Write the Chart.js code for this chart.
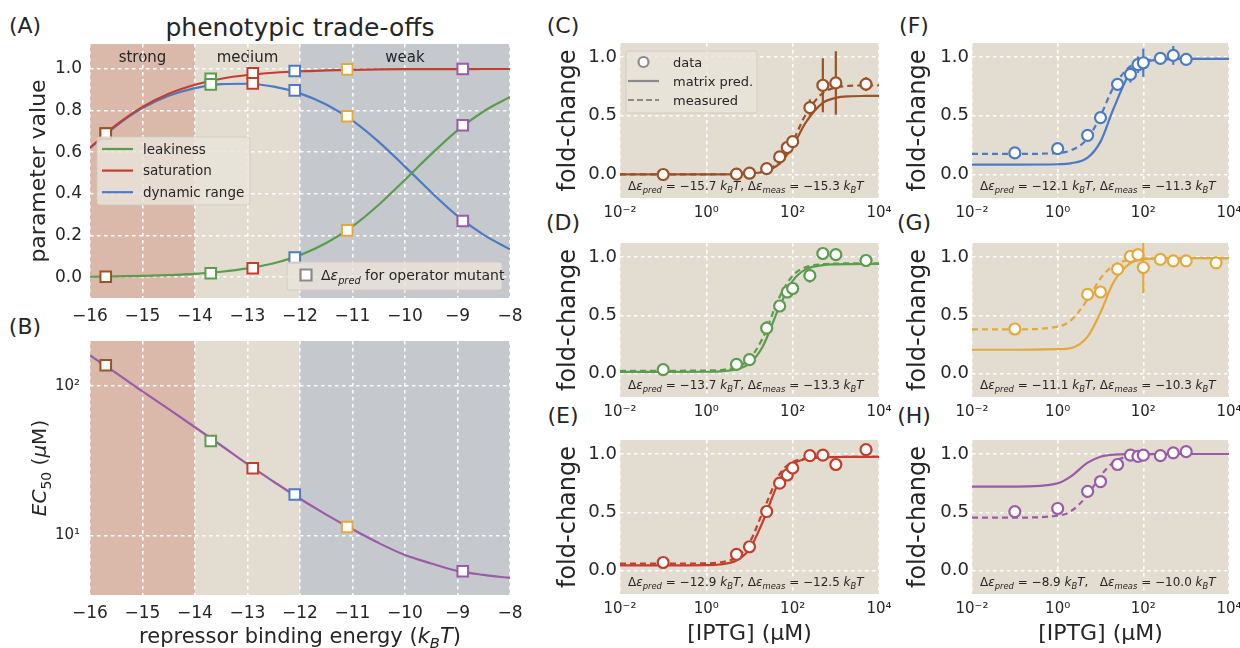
<!DOCTYPE html>
<html>
<head>
<meta charset="utf-8">
<script src="https://cdn.jsdelivr.net/npm/chart.js@4.4.0/dist/chart.umd.min.js"></script>
<style>
  body { margin: 0; width: 1240px; height: 648px; overflow: hidden; background: #fff; position: relative;
         font-family: 'DejaVu Sans', sans-serif; color: #262626; }
  canvas { position: absolute; }
  .tag { position: absolute; font-size: 22px; transform: translate(-50%, -50%); white-space: nowrap; }
</style>
</head>
<body>
<div class="tag" style="left:25px;top:25px">(A)</div>
<div class="tag" style="left:25px;top:326px">(B)</div>
<div class="tag" style="left:563px;top:25px">(C)</div>
<div class="tag" style="left:563px;top:222px">(D)</div>
<div class="tag" style="left:563px;top:415px">(E)</div>
<div class="tag" style="left:914px;top:25px">(F)</div>
<div class="tag" style="left:914px;top:222px">(G)</div>
<div class="tag" style="left:914px;top:415px">(H)</div>
<div class="tag" style="left:300px;top:27px;font-size:25px">phenotypic trade-offs</div>

<canvas id="chartA"></canvas>
<canvas id="chartB"></canvas>
<canvas id="chartC"></canvas>
<canvas id="chartD"></canvas>
<canvas id="chartE"></canvas>
<canvas id="chartF"></canvas>
<canvas id="chartG"></canvas>
<canvas id="chartH"></canvas>

<script>
// ---- panels A and B: properties vs repressor binding energy (kBT) ----
const energy       = [-16, -15.5, -15, -14.5, -14, -13.5, -13, -12.5, -12, -11.5, -11, -10.5, -10, -9.5, -9, -8.5, -8];
const leakiness    = [0.002, 0.004, 0.006, 0.010, 0.016, 0.026, 0.042, 0.067, 0.106, 0.164, 0.244, 0.348, 0.468, 0.591, 0.705, 0.797, 0.866];
const saturation   = [0.622, 0.731, 0.818, 0.881, 0.924, 0.953, 0.971, 0.982, 0.989, 0.993, 0.996, 0.998, 0.999, 0.999, 0.999, 1.0, 1.0];
const dynamicRange = [0.620, 0.727, 0.812, 0.871, 0.908, 0.927, 0.929, 0.915, 0.883, 0.829, 0.752, 0.650, 0.531, 0.408, 0.294, 0.203, 0.134];
const ec50         = [160, 122, 92, 70, 53, 40, 30, 22.9, 17.6, 13.8, 11.0, 8.9, 7.4, 6.5, 5.8, 5.45, 5.2];

// operator mutants (one per panel C..H)
const predEnergy = [-15.7, -13.7, -12.9, -12.1, -11.1, -8.9];
const measEnergy = [-15.3, -13.3, -12.5, -11.3, -10.3, -10.0];
const mutantLeak = [0.002, 0.019, 0.043, 0.094, 0.225, 0.73];
const mutantSat  = [0.69, 0.953, 0.979, 0.990, 0.998, 1.0];
const mutantDyn  = [0.69, 0.926, 0.931, 0.897, 0.773, 0.27];
const mutantEC50 = [137.7, 42.9, 28.2, 18.8, 11.4, 5.77];

// tick labels
const energyTicks = [-16, -15, -14, -13, -12, -11, -10, -9, -8];
const energyTickLabels = ['−16', '−15', '−14', '−13', '−12', '−11', '−10', '−9', '−8'];
const paramTicks = [0, 0.2, 0.4, 0.6, 0.8, 1.0];
const paramTickLabels = ['0.0', '0.2', '0.4', '0.6', '0.8', '1.0'];
const ecTicks = [10, 100];
const ecTickLabels = ['10¹', '10²'];
const iptgTicks = [0.01, 1, 100, 10000];
const iptgTickLabels = ['10⁻²', '10⁰', '10²', '10⁴'];
const fcTicks = [0, 0.5, 1.0];
const fcTickLabels = ['0.0', '0.5', '1.0'];

// ---- panels C..H: fold-change vs IPTG (uM) ----
const iptgCurve = [0.01, 0.1, 1, 2, 5, 10, 20, 50, 100, 200, 500, 1000, 2000, 5000, 10000];
const predC = [0.002, 0.002, 0.002, 0.002, 0.004, 0.008, 0.021, 0.093, 0.239, 0.441, 0.61, 0.653, 0.666, 0.669, 0.67];
const measC = [0.002, 0.002, 0.002, 0.0024, 0.004, 0.009, 0.026, 0.111, 0.282, 0.51, 0.695, 0.741, 0.755, 0.759, 0.76];
const predD = [0.015, 0.015, 0.0163, 0.0194, 0.0373, 0.088, 0.229, 0.579, 0.796, 0.894, 0.93, 0.937, 0.939, 0.94, 0.94];
const measD = [0.025, 0.025, 0.027, 0.031, 0.056, 0.126, 0.301, 0.66, 0.84, 0.912, 0.938, 0.943, 0.945, 0.945, 0.945];
const predE = [0.045, 0.045, 0.047, 0.053, 0.087, 0.184, 0.413, 0.778, 0.913, 0.957, 0.972, 0.974, 0.975, 0.975, 0.975];
const measE = [0.06, 0.06, 0.063, 0.07, 0.116, 0.239, 0.496, 0.828, 0.93, 0.962, 0.972, 0.974, 0.975, 0.975, 0.975];
const predF = [0.085, 0.085, 0.0875, 0.0949, 0.143, 0.28, 0.558, 0.871, 0.953, 0.977, 0.984, 0.985, 0.985, 0.985, 0.985];
const measF = [0.175, 0.175, 0.1835, 0.204, 0.306, 0.5, 0.742, 0.923, 0.966, 0.98, 0.984, 0.985, 0.985, 0.985, 0.985];
const predG = [0.205, 0.205, 0.21, 0.218, 0.317, 0.524, 0.781, 0.947, 0.979, 0.987, 0.99, 0.99, 0.99, 0.99, 0.99];
const measG = [0.38, 0.38, 0.403, 0.454, 0.635, 0.816, 0.927, 0.977, 0.986, 0.989, 0.99, 0.99, 0.99, 0.99, 0.99];
const predH = [0.72, 0.7203, 0.748, 0.806, 0.926, 0.977, 0.994, 0.999, 1.0, 1.0, 1.0, 1.0, 1.0, 1.0, 1.0];
const measH = [0.455, 0.455, 0.471, 0.507, 0.648, 0.812, 0.928, 0.985, 0.9955, 0.999, 1.0, 1.0, 1.0, 1.0, 1.0];

const iptgSet1 = [0.1, 5, 10, 25, 50, 75, 100, 250, 500, 1000, 5000];
const iptgSet2 = [0.1, 1, 5, 10, 25, 50, 75, 100, 250, 500, 1000];
const fcC  = [0.0, 0.003, 0.011, 0.05, 0.15, 0.23, 0.28, 0.57, 0.76, 0.78, 0.77];
const errC = [0.01, 0.01, 0.01, 0.02, 0.02, 0.03, 0.02, 0.07, 0.23, 0.27, 0.06];
const fcD  = [0.034, 0.08, 0.12, 0.39, 0.58, 0.70, 0.73, 0.84, 1.03, 1.02, 0.97];
const errD = [0.01, 0.02, 0.02, 0.06, 0.04, 0.03, 0.03, 0.06, 0.05, 0.02, 0.05];
const fcE  = [0.07, 0.14, 0.205, 0.507, 0.75, 0.82, 0.88, 0.986, 0.99, 0.91, 1.037];
const errE = [0.01, 0.01, 0.02, 0.02, 0.02, 0.02, 0.02, 0.02, 0.02, 0.04, 0.02];
const fcF  = [0.184, 0.22, 0.334, 0.485, 0.768, 0.853, 0.935, 0.952, 0.989, 1.014, 0.98];
const errF = [0.02, 0.02, 0.02, 0.03, 0.05, 0.07, 0.07, 0.12, 0.03, 0.08, 0.03];
const fcG  = [0.383, 0.68, 0.70, 0.897, 1.005, 1.02, 0.91, 0.98, 0.967, 0.967, 0.95];
const errG = [0.02, 0.05, 0.02, 0.04, 0.03, 0.02, 0.22, 0.02, 0.02, 0.02, 0.04];
const fcH  = [0.506, 0.533, 0.68, 0.764, 0.91, 0.99, 0.98, 0.99, 0.986, 1.01, 1.02];
const errH = [0.02, 0.02, 0.02, 0.02, 0.02, 0.02, 0.02, 0.02, 0.02, 0.02, 0.02];

// ---- styles ----
const FONT = "'DejaVu Sans', sans-serif";
const INK = '#262626';
const COLORS = ['#9b5226', '#5b9c4f', '#c43e2d', '#4c7bc3', '#e3a93b', '#9a5ba8'];
const GREEN = COLORS[1], RED = COLORS[2], BLUE = COLORS[3], PURPLE = COLORS[5];
const PANEL_BG = '#e3dcd0';
const GRAY = '#8a8a8a';

function place(id, left, top, w, h) {
    const c = document.getElementById(id);
    c.width = w;
    c.height = h;
    c.style.left = left + 'px';
    c.style.top = top + 'px';
    return c;
}

// draw text made of segments {t, i: italic, s: subscript}
function drawRich(ctx, segs, x, y, size, align, rotate) {
    ctx.save();
    ctx.translate(x, y);
    if (rotate) ctx.rotate(rotate);
    ctx.fillStyle = INK;
    ctx.textBaseline = 'alphabetic';
    ctx.textAlign = 'left';
    const fontOf = s => (s.i ? 'italic ' : '') + (s.s ? size * 0.7 : size) + 'px ' + FONT;
    const widths = segs.map(s => { ctx.font = fontOf(s); return ctx.measureText(s.t).width; });
    const total = widths.reduce((a, b) => a + b, 0);
    let cx = align === 'center' ? -total / 2 : 0;
    segs.forEach((s, k) => {
        ctx.font = fontOf(s);
        ctx.fillText(s.t, cx, size * 0.36 + (s.s ? size * 0.25 : 0));
        cx += widths[k];
    });
    ctx.restore();
}

const kT = [{t: ' '}, {t: 'k', i: 1}, {t: 'B', i: 1, s: 1}, {t: 'T', i: 1}];
function energySegs(p, m, gap) {
    const f = v => '−' + Math.abs(v).toFixed(1);
    return [{t: 'Δ'}, {t: 'ε', i: 1}, {t: 'pred', i: 1, s: 1}, {t: ' = ' + f(p)}, ...kT,
            {t: ',' + gap + 'Δ'}, {t: 'ε', i: 1}, {t: 'meas', i: 1, s: 1}, {t: ' = ' + f(m)}, ...kT];
}

// ---- small inline plugins ----
function bands(fill, regions, labels) {
    return {
        id: 'bands',
        beforeDraw(chart) {
            const {ctx, chartArea: a, scales: {x}} = chart;
            ctx.save();
            ctx.fillStyle = fill;
            ctx.fillRect(a.left, a.top, a.width, a.height);
            (regions || []).forEach(r => {
                const x0 = x.getPixelForValue(r.from), x1 = x.getPixelForValue(r.to);
                ctx.fillStyle = r.color;
                ctx.fillRect(x0, a.top, x1 - x0, a.height);
            });
            ctx.fillStyle = INK;
            ctx.font = '15px ' + FONT;
            ctx.textAlign = 'center';
            ctx.textBaseline = 'middle';
            (labels || []).forEach(l => ctx.fillText(l.text, x.getPixelForValue(l.x), a.top + 14));
            ctx.restore();
        }
    };
}

const errorBars = {
    id: 'errorBars',
    beforeDatasetsDraw(chart) {
        const {ctx, chartArea: a, scales: {x, y}} = chart;
        ctx.save();
        ctx.beginPath();
        ctx.rect(a.left, a.top, a.width, a.height);
        ctx.clip();
        chart.data.datasets.forEach(ds => {
            if (!ds.errors) return;
            ctx.strokeStyle = ds.borderColor;
            ctx.lineWidth = 2.2;
            ds.data.forEach((p, i) => {
                const px = x.getPixelForValue(p.x);
                ctx.beginPath();
                ctx.moveTo(px, y.getPixelForValue(p.y - ds.errors[i]));
                ctx.lineTo(px, y.getPixelForValue(p.y + ds.errors[i]));
                ctx.stroke();
            });
        });
        ctx.restore();
    }
};

function legendBoxes(boxes) {
    return {
        id: 'legendBoxes',
        afterDatasetsDraw(chart) {
            const {ctx, chartArea: a} = chart;
            boxes.forEach(b => {
                const bx = a.left + b.x, by = a.top + b.y;
                ctx.save();
                ctx.beginPath();
                ctx.roundRect(bx, by, b.w, b.h, 3);
                ctx.fillStyle = 'rgba(233,228,219,0.82)';
                ctx.fill();
                ctx.strokeStyle = 'rgba(208,202,192,0.9)';
                ctx.lineWidth = 1;
                ctx.stroke();
                b.items.forEach((it, k) => {
                    const cy = by + b.top + k * b.row, sx = bx + b.symX, mid = sx + b.symW / 2;
                    ctx.strokeStyle = it.color;
                    ctx.lineWidth = 2.2;
                    ctx.setLineDash(it.kind === 'dash' ? [6, 3] : []);
                    ctx.beginPath();
                    if (it.kind === 'circle') {
                        ctx.arc(mid, cy, 5, 0, 2 * Math.PI);
                        ctx.fillStyle = '#fff'; ctx.fill(); ctx.stroke();
                    } else if (it.kind === 'square') {
                        ctx.rect(mid - 5.5, cy - 5.5, 11, 11);
                        ctx.fillStyle = '#fff'; ctx.fill(); ctx.stroke();
                    } else {
                        ctx.moveTo(sx, cy); ctx.lineTo(sx + b.symW, cy); ctx.stroke();
                    }
                    ctx.setLineDash([]);
                    const segs = typeof it.label === 'string' ? [{t: it.label}] : it.label;
                    drawRich(ctx, segs, bx + b.textX, cy, b.size, 'left', 0);
                });
                ctx.restore();
            });
        }
    };
}

function richText(items) {
    return {
        id: 'richText',
        afterDraw(chart) {
            const a = chart.chartArea;
            items.forEach(t => drawRich(chart.ctx, t.segs, a.left + t.x, (t.bottom ? a.bottom : a.top) + t.y,
                                        t.size, t.align, t.rotate));
        }
    };
}

function axis(o) {
    return {
        type: o.type, min: o.min, max: o.max,
        afterBuildTicks: s => { s.ticks = o.ticks.map(v => ({value: v})); },
        afterFit: s => { if (o.width) s.width = o.width; if (o.height) s.height = o.height; },
        ticks: { callback: (v, i) => o.labels[i], font: {family: FONT, size: o.tickSize}, color: INK,
                 padding: o.pad, autoSkip: false, maxRotation: 0 },
        grid: { color: 'rgba(255,255,255,0.95)', lineWidth: 1.6, drawTicks: false },
        border: { display: false, dash: [3.5, 3.5] },
        title: o.title ? { display: true, text: o.title, font: {family: FONT, size: o.titleSize}, color: INK, padding: 0 }
                       : { display: false }
    };
}

const baseOptions = (pad) => ({
    responsive: false, animation: false, events: [],
    layout: { padding: pad },
    plugins: { legend: {display: false}, tooltip: {enabled: false} }
});

function squares(k, ys, xs) {
    return {
        label: 'mutant ' + k,
        data: xs.map((x, i) => ({x: x, y: ys[i]})),
        showLine: false, pointStyle: 'rect', pointRadius: 7.5, pointBorderWidth: 2,
        pointBackgroundColor: '#fff', pointBorderColor: COLORS[k], borderColor: COLORS[k]
    };
}

function curve(label, xs, ys, color, dash) {
    return {
        label: label, data: xs.map((x, i) => ({x: x, y: ys[i]})),
        borderColor: color, borderWidth: 2.2, borderDash: dash || [], pointRadius: 0,
        cubicInterpolationMode: 'monotone', fill: false
    };
}

const energyRegions = [
    {from: -16, to: -14, color: '#dbb9aa'},
    {from: -12, to: -8, color: '#c5c8cd'}
];
const regionLabels = [{x: -15, text: 'strong'}, {x: -13, text: 'medium'}, {x: -10, text: 'weak'}];

// ---- panel A ----
new Chart(place('chartA', 26, 24, 506, 300), {
    type: 'line',
    data: {
        datasets: [
            ...predEnergy.map((e, k) => squares(k, [mutantSat[k], mutantDyn[k], mutantLeak[k]], [e, e, e])),
            curve('leakiness', energy, leakiness, GREEN),
            curve('saturation', energy, saturation, RED),
            curve('dynamic range', energy, dynamicRange, BLUE)
        ]
    },
    options: Object.assign(baseOptions({top: 20, right: 22, left: 0, bottom: 0}), {
        scales: {
            x: axis({type: 'linear', min: -16, max: -8, ticks: energyTicks, labels: energyTickLabels,
                     height: 26, tickSize: 17, pad: 8}),
            y: axis({type: 'linear', min: -0.1, max: 1.12, ticks: paramTicks, labels: paramTickLabels,
                     width: 64, tickSize: 17, pad: 8, title: 'parameter value', titleSize: 22})
        }
    }),
    plugins: [
        bands(PANEL_BG, energyRegions, regionLabels),
        legendBoxes([
            {x: 7, y: 93, w: 153, h: 68, top: 12, row: 21.6, symX: 5, symW: 31, textX: 46, size: 13.5,
             items: [{kind: 'line', color: GREEN, label: 'leakiness'},
                     {kind: 'line', color: RED, label: 'saturation'},
                     {kind: 'line', color: BLUE, label: 'dynamic range'}]},
            {x: 197, y: 218, w: 215, h: 28, top: 13, row: 0, symX: 12, symW: 14, textX: 34, size: 14,
             items: [{kind: 'square', color: GRAY,
                      label: [{t: 'Δ'}, {t: 'ε', i: 1}, {t: 'pred', i: 1, s: 1}, {t: ' for operator mutant'}]}]}
        ])
    ]
});

// ---- panel B ----
new Chart(place('chartB', 27, 321, 505, 327), {
    type: 'line',
    data: {
        datasets: [
            ...predEnergy.map((e, k) => squares(k, [mutantEC50[k]], [e])),
            curve('EC50', energy, ec50, PURPLE)
        ]
    },
    options: Object.assign(baseOptions({top: 20, right: 22, left: 0, bottom: 0}), {
        scales: {
            x: axis({type: 'linear', min: -16, max: -8, ticks: energyTicks, labels: energyTickLabels,
                     height: 53, tickSize: 17, pad: 8}),
            y: axis({type: 'logarithmic', min: 4, max: 200, ticks: ecTicks, labels: ecTickLabels,
                     width: 63, tickSize: 15, pad: 10})
        }
    }),
    plugins: [
        bands(PANEL_BG, energyRegions, []),
        richText([
            {segs: [{t: 'EC', i: 1}, {t: '50', s: 1}, {t: ' ('}, {t: 'μ', i: 1}, {t: 'M)'}],
             x: -51, y: 127, size: 20, align: 'center', rotate: -Math.PI / 2},
            {segs: [{t: 'repressor binding energy ('}, {t: 'k', i: 1}, {t: 'B', i: 1, s: 1}, {t: 'T', i: 1}, {t: ')'}],
             x: 210, y: 40, bottom: true, size: 21, align: 'center'}
        ])
    ]
});

// ---- panels C..H ----
const foldPanels = [
    {id: 'chartC', iptg: iptgSet1, fc: fcC, err: errC, pred: predC, meas: measC},
    {id: 'chartD', iptg: iptgSet1, fc: fcD, err: errD, pred: predD, meas: measD},
    {id: 'chartE', iptg: iptgSet1, fc: fcE, err: errE, pred: predE, meas: measE},
    {id: 'chartF', iptg: iptgSet2, fc: fcF, err: errF, pred: predF, meas: measF},
    {id: 'chartG', iptg: iptgSet1, fc: fcG, err: errG, pred: predG, meas: measG},
    {id: 'chartH', iptg: iptgSet2, fc: fcH, err: errH, pred: predH, meas: measH}
];
const foldLayout = [
    {left: 554, top: 27,  w: 347, h: 195, wy: 66, hx: 24},
    {left: 554, top: 227, w: 347, h: 194, wy: 66, hx: 24},
    {left: 554, top: 424, w: 347, h: 223, wy: 66, hx: 53},
    {left: 904, top: 27,  w: 347, h: 195, wy: 68, hx: 24},
    {left: 904, top: 227, w: 347, h: 194, wy: 68, hx: 24},
    {left: 904, top: 424, w: 347, h: 223, wy: 68, hx: 53}
];

foldPanels.forEach((p, k) => {
    const L = foldLayout[k];
    const col = COLORS[k];
    const bottomRow = k % 3 === 2;
    const extra = [];
    if (k === 0) {
        extra.push(legendBoxes([
            {x: 6, y: 8, w: 131, h: 62, top: 11, row: 19, symX: 2, symW: 31, textX: 47, size: 13,
             items: [{kind: 'circle', color: GRAY, label: 'data'},
                     {kind: 'line', color: GRAY, label: 'matrix pred.'},
                     {kind: 'dash', color: GRAY, label: 'measured'}]}
        ]));
    }
    new Chart(place(p.id, L.left, L.top, L.w, L.h), {
        type: 'line',
        data: {
            datasets: [
                {
                    label: 'data', data: p.iptg.map((c, i) => ({x: c, y: p.fc[i]})), errors: p.err,
                    showLine: false, pointRadius: 5.5, pointBorderWidth: 2.2,
                    pointBackgroundColor: '#fff', pointBorderColor: col, borderColor: col
                },
                curve('measured', iptgCurve, p.meas, col, [6, 4]),
                curve('matrix pred.', iptgCurve, p.pred, col)
            ]
        },
        options: Object.assign(baseOptions({top: 16, right: 22, left: 0, bottom: 0}), {
            scales: {
                x: axis({type: 'logarithmic', min: 0.01, max: 10000, ticks: iptgTicks, labels: iptgTickLabels,
                         height: L.hx, tickSize: 15, pad: 6,
                         title: bottomRow ? '[IPTG] (μM)' : null, titleSize: 22}),
                y: axis({type: 'linear', min: -0.2, max: 1.12, ticks: fcTicks, labels: fcTickLabels,
                         width: L.wy, tickSize: 18, pad: 3, title: 'fold-change', titleSize: 24})
            }
        }),
        plugins: [
            bands(PANEL_BG, [], []),
            errorBars,
            richText([{segs: energySegs(predEnergy[k], measEnergy[k], k === 5 ? '   ' : ' '),
                       x: 8, y: -12, bottom: true, size: 12, align: 'left'}]),
            ...extra
        ]
    });
});
</script>
</body>
</html>
